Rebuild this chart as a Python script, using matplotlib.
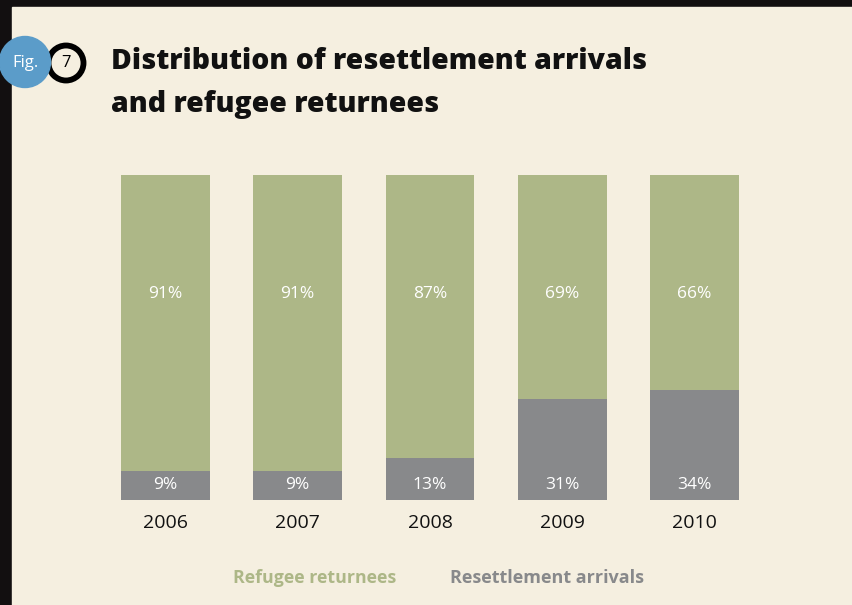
import matplotlib.pyplot as plt
from matplotlib.patches import Circle, Rectangle

# data
years = ["2006", "2007", "2008", "2009", "2010"]
returnees = [91, 91, 87, 69, 66]
resettlement = [9, 9, 13, 31, 34]
legend_labels = ["Refugee returnees", "Resettlement arrivals"]

green = "#adb787"
grey = "#88898b"
cream = "#f5efe0"
blue = "#5b9cc9"
font = "Open Sans"

W, H = 853, 605
fig = plt.figure(figsize=(W / 100, H / 100), dpi=100, facecolor="#120f10")

# background / decoration layer in pixel coords
bg = fig.add_axes([0, 0, 1, 1])
bg.set_xlim(0, W)
bg.set_ylim(H, 0)
bg.axis("off")
bg.add_patch(Rectangle((12, 7), W, H, color=cream, zorder=0))
bg.add_patch(Circle((25, 62), 25.5, color=blue, zorder=2))
bg.add_patch(Circle((66, 63), 17.5, facecolor=cream, edgecolor="black", lw=4.2, zorder=1))
bg.text(26, 63, "Fig.", color="white", fontsize=12, ha="center", va="center",
        family=font, zorder=3)
bg.text(66.5, 63, "7", color="black", fontsize=12, ha="center", va="center",
        family=font, zorder=3)
bg.text(111, 69, "Distribution of resettlement arrivals", fontsize=20.4,
        fontweight=800, color="#111111", family=font, va="baseline")
bg.text(111, 112, "and refugee returnees", fontsize=20.4,
        fontweight=800, color="#111111", family=font, va="baseline")

# bar chart
ax = fig.add_axes([99.25 / W, 105 / H, 661.5 / W, 325 / H])
ax.set_facecolor("none")
x = range(len(years))
ax.bar(x, resettlement, width=0.67, color=grey)
ax.bar(x, returnees, width=0.67, bottom=resettlement, color=green)
ax.set_xlim(-0.5, len(years) - 0.5)
ax.set_ylim(0, 100)
ax.axis("off")

for i in x:
    ax.text(i, 63.5, f"{returnees[i]}%", color="white", fontsize=12.5,
            ha="center", va="center", family=font)
    ax.text(i, 4.6, f"{resettlement[i]}%", color="white", fontsize=12.5,
            ha="center", va="center", family=font)
    ax.text(i, -7.2, years[i], color="#111111", fontsize=14,
            ha="center", va="center", family=font)

# legend as coloured text
bg.text(233, 578, legend_labels[0], color=green, fontsize=12.8, fontweight="bold",
        family=font, ha="left", va="center")
bg.text(450, 578, legend_labels[1], color=grey, fontsize=13, fontweight="bold",
        family=font, ha="left", va="center")

fig.savefig("out.png", dpi=100, facecolor=fig.get_facecolor())
